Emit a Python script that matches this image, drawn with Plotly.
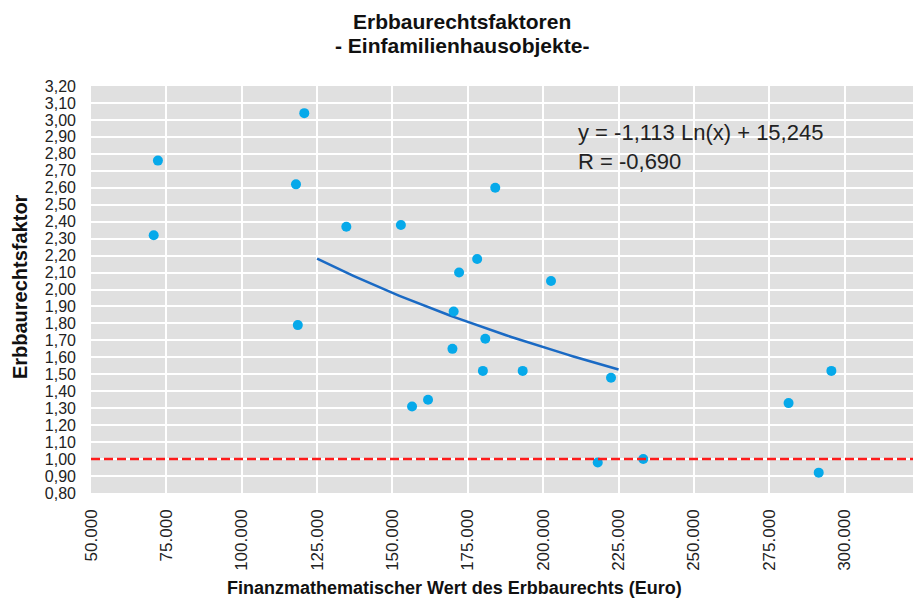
import numpy as np
import plotly.graph_objects as go

# Data
wert_euro = [72200, 70800, 120750, 118000, 118600, 134700, 152800, 184100,
             178100, 172100, 170300, 180800, 169900, 180000, 193200, 161800,
             156500, 202600, 222500, 218100, 233200, 281400, 295600, 291400]
faktor = [2.76, 2.32, 3.04, 2.62, 1.79, 2.37, 2.38, 2.60,
          2.18, 2.10, 1.87, 1.71, 1.65, 1.52, 1.52, 1.35,
          1.31, 2.05, 1.48, 0.98, 1.00, 1.33, 1.52, 0.92]

# Logarithmic trend shown in the chart: y = a*ln(x) + b
trend_a = -1.113
trend_b = 15.245
trend_x_range = [125000, 225000]
referenz_faktor = 1.0

title_lines = ["Erbbaurechtsfaktoren", "- Einfamilienhausobjekte-"]
x_title = "Finanzmathematischer Wert des Erbbaurechts (Euro)"
y_title = "Erbbaurechtsfaktor"
equation_text = "y = -1,113 Ln(x) + 15,245<br>R = -0,690"

tx = np.linspace(trend_x_range[0], trend_x_range[1], 60)
ty = trend_a * np.log(tx) + trend_b

fig = go.Figure()
fig.add_trace(go.Scatter(x=tx, y=ty, mode="lines",
                         line=dict(color="#1a6ac4", width=2.5),
                         hoverinfo="skip", showlegend=False))
fig.add_trace(go.Scatter(x=wert_euro, y=faktor, mode="markers",
                         marker=dict(color="#06a9ea", size=10),
                         showlegend=False))

fig.add_shape(type="line", xref="paper", x0=0, x1=1, yref="y",
              y0=referenz_faktor, y1=referenz_faktor,
              line=dict(color="#ff1a1a", width=2.5, dash="9px,4px"), layer="above")

font_family = "Liberation Sans, Arial, sans-serif"

# page body adds an 8px offset, so the figure is sized/margined to compensate
fig.update_layout(
    width=913, height=591,
    margin=dict(l=83, r=1, t=78, b=106),
    paper_bgcolor="white",
    plot_bgcolor="#e0e0e0",
    separators=",.",
    font=dict(family=font_family, color="#222222"),
    xaxis=dict(range=[50000, 325000], tick0=50000, dtick=25000,
               tickformat=",.0f", tickangle=-90,
               showgrid=True, gridcolor="white", gridwidth=1.5,
               zeroline=False, showline=False, automargin=False,
               ticklabelstandoff=12, ticklabeloverflow="allow",
               tickfont=dict(size=17, color="#222222")),
    yaxis=dict(range=[0.8, 3.2], tick0=0.8, dtick=0.1,
               tickformat=".2f",
               showgrid=True, gridcolor="white", gridwidth=1.5,
               zeroline=False, showline=False, automargin=False,
               ticklabelstandoff=14,
               tickfont=dict(size=16, color="#222222")),
    annotations=[
        dict(text="<b>" + title_lines[0] + "</b>", xref="paper", yref="paper",
             x=0.4475, y=1.1597, xanchor="center", yanchor="middle", showarrow=False,
             font=dict(size=21, color="#111111", family=font_family)),
        dict(text="<b>" + title_lines[1] + "</b>", xref="paper", yref="paper",
             x=0.4475, y=1.0983, xanchor="center", yanchor="middle", showarrow=False,
             font=dict(size=21, color="#111111", family=font_family)),
        dict(text="<b>" + x_title + "</b>", xref="paper", yref="paper", x=0.439, y=-0.2334,
             xanchor="center", yanchor="middle", showarrow=False,
             font=dict(size=18, color="#111111", family=font_family)),
        dict(text="<b>" + y_title + "</b>", xref="paper", yref="paper", x=-0.0856, y=0.506,
             xanchor="center", yanchor="middle", showarrow=False, textangle=-90,
             font=dict(size=20, color="#111111", family=font_family)),
        dict(text=equation_text, xref="paper", yref="paper", x=0.585, y=0.922,
             xanchor="left", yanchor="top", align="left", showarrow=False,
             font=dict(size=22, color="#222222", family=font_family)),
    ],
)

fig.write_html("out.html")
